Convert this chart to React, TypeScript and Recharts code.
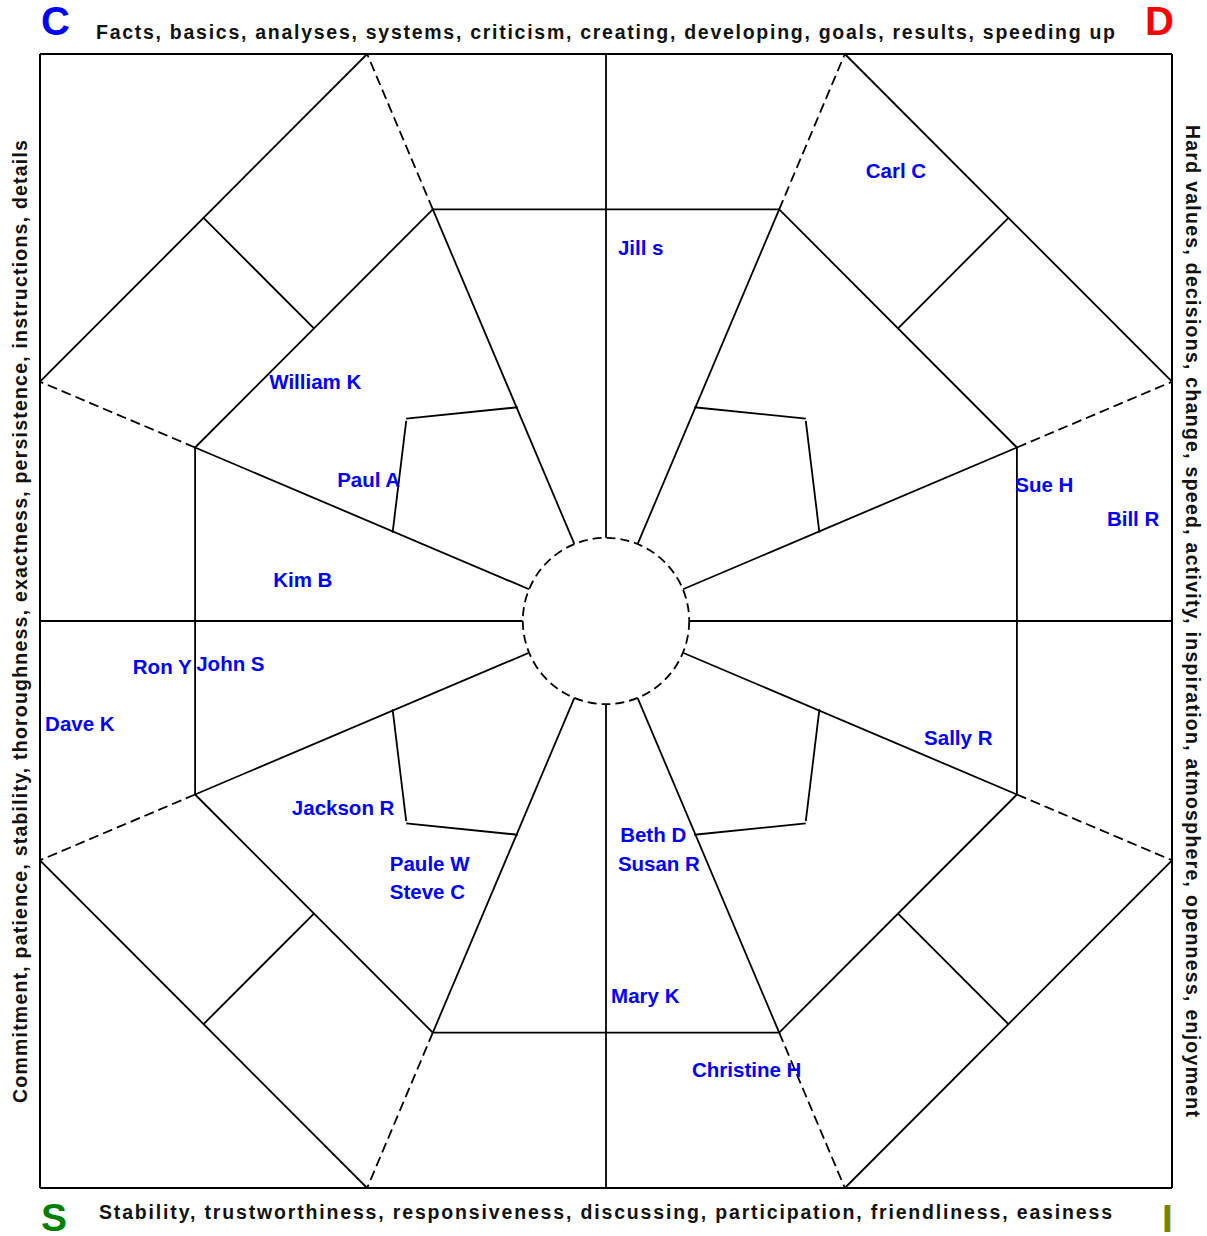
import { ScatterChart, Scatter, XAxis, YAxis, ReferenceLine, ReferenceDot } from 'recharts';

// chart box (data units run -100..100 on both axes, centre is 0,0)
const W = 1207;
const H = 1236;
const margin = { top: 54, right: 35, bottom: 48, left: 40 };
const plotW = W - margin.left - margin.right;

const FONT = '"Liberation Sans", Arial, Helvetica, sans-serif';

// person labels: left edge / baseline in data units
const names = [
  'Carl C', 'Jill s', 'William K', 'Paul A', 'Sue H', 'Bill R', 'Kim B', 'Ron Y', 'John S',
  'Dave K', 'Sally R', 'Jackson R', 'Beth D', 'Susan R', 'Paule W', 'Steve C', 'Mary K', 'Christine H',
];
const nameX = [45.9, 2.1, -59.5, -47.5, 72.3, 88.5, -58.8, -83.6, -72.4, -99.1, 56.2, -55.5, 2.5, 2.1, -38.2, -38.2, 0.9, 15.2];
const nameY = [78.1, 64.5, 40.9, 23.6, 22.8, 16.8, 6.0, -9.3, -8.8, -19.4, -21.8, -34.2, -39.0, -44.1, -44.1, -49.0, -67.4, -80.4];

// grid geometry (one quadrant, mirrored into the other three)
const CIRCLE_R = 14.7;
const OCT = [30.6, 72.6]; // octagon vertex (short, long)
const SPOKE_IN = [5.6, 13.6]; // diagonal spoke at the circle
const INNER = [15.6, 37.7]; // inner shape meets spoke
const INNER_CORNER = [35.3, 35.7];
const EDGE = [42.2, 100]; // dashed spoke hits the frame
const OUTER_MID = 71.1;
const OCT_MID = 51.6;

const labelData = names.map((n, i) => ({ name: n, x: nameX[i], y: nameY[i] }));

type Seg = [number, number, number, number];

// solid and dashed segments for the upper-right quadrant
const quadSolid: Seg[] = [
  [SPOKE_IN[0], SPOKE_IN[1], OCT[0], OCT[1]],
  [SPOKE_IN[1], SPOKE_IN[0], OCT[1], OCT[0]],
  [OCT[0], OCT[1], 0, OCT[1]],
  [OCT[1], OCT[0], OCT[1], 0],
  [OCT[0], OCT[1], OCT[1], OCT[0]],
  [INNER[0], INNER[1], INNER_CORNER[0], INNER_CORNER[1]],
  [INNER[1], INNER[0], INNER_CORNER[0], INNER_CORNER[0]],
  [EDGE[0], EDGE[1], EDGE[1], EDGE[0]],
  [OUTER_MID, OUTER_MID, OCT_MID, OCT_MID],
];
const quadDashed: Seg[] = [
  [OCT[0], OCT[1], EDGE[0], EDGE[1]],
  [OCT[1], OCT[0], EDGE[1], EDGE[0]],
];

const straightSpokes: Seg[] = [
  [0, CIRCLE_R, 0, 100],
  [0, -CIRCLE_R, 0, -100],
  [CIRCLE_R, 0, 100, 0],
  [-CIRCLE_R, 0, -100, 0],
];

const frame: Seg[] = [
  [-100, 100, 100, 100],
  [-100, -100, 100, -100],
  [-100, 100, -100, -100],
  [100, 100, 100, -100],
];

const signs = [[1, 1], [-1, 1], [1, -1], [-1, -1]];
const mirror = (segs: Seg[]): Seg[] =>
  signs.flatMap(([sx, sy]) => segs.map(([a, b, c, d]) => [a * sx, b * sy, c * sx, d * sy] as Seg));

const solidSegs = [...mirror(quadSolid), ...straightSpokes];
const dashedSegs = mirror(quadDashed);

const NameLabel = (props: any) => (
  <text
    x={props.cx}
    y={props.cy}
    fill="#0000ff"
    fontFamily={FONT}
    fontWeight="bold"
    fontSize={20.5}
    textAnchor="start"
  >
    {props.payload.name}
  </text>
);

const seg = (s: Seg) => [{ x: s[0], y: s[1] }, { x: s[2], y: s[3] }];

export default function App() {
  return (
    <div style={{ position: 'absolute', left: 0, top: 0, width: W, height: H, background: '#fff' }}>
      <ScatterChart width={W} height={H} margin={margin}>
        <XAxis type="number" dataKey="x" domain={[-100, 100]} hide allowDataOverflow />
        <YAxis type="number" dataKey="y" domain={[-100, 100]} hide allowDataOverflow />
        {solidSegs.map((s, i) => (
          <ReferenceLine key={'s' + i} segment={seg(s)} stroke="#000" strokeWidth={1.8} ifOverflow="visible" />
        ))}
        {dashedSegs.map((s, i) => (
          <ReferenceLine key={'d' + i} segment={seg(s)} stroke="#000" strokeWidth={1.8} strokeDasharray="10 5" ifOverflow="visible" />
        ))}
        {frame.map((s, i) => (
          <ReferenceLine key={'f' + i} segment={seg(s)} stroke="#000" strokeWidth={2} ifOverflow="visible" />
        ))}
        <ReferenceDot
          x={0}
          y={0}
          r={(CIRCLE_R * plotW) / 200}
          fill="none"
          stroke="#000"
          strokeWidth={1.8}
          strokeDasharray="9 5"
          ifOverflow="visible"
        />
        <Scatter data={labelData} shape={NameLabel} isAnimationActive={false} />
      </ScatterChart>
      <svg
        width={W}
        height={H}
        style={{ position: 'absolute', left: 0, top: 0, pointerEvents: 'none' }}
        fontFamily={FONT}
        fontWeight="bold"
      >
        <text x={41} y={35} fontSize={40} fill="#0000ff">C</text>
        <text x={1145} y={35} fontSize={40} fill="#ff0000">D</text>
        <text x={41} y={1231} fontSize={39} fill="#008000">S</text>
        <text x={1162} y={1232} fontSize={39} fill="#808000">I</text>
        <text x={96} y={39} fontSize={19.5} fill="#111" textLength={1019} lengthAdjust="spacing">
          Facts, basics, analyses, systems, criticism, creating, developing, goals, results, speeding up
        </text>
        <text x={99} y={1219} fontSize={19.5} fill="#111" textLength={1013} lengthAdjust="spacing">
          Stability, trustworthiness, responsiveness, discussing, participation, friendliness, easiness
        </text>
        <text
          transform="translate(27,1103) rotate(-90)"
          fontSize={19.5}
          fill="#111"
          textLength={963}
          lengthAdjust="spacing"
        >
          Commitment, patience, stability, thoroughness, exactness, persistence, instructions, details
        </text>
        <text
          transform="translate(1186,125) rotate(90)"
          fontSize={19.5}
          fill="#111"
          textLength={992}
          lengthAdjust="spacing"
        >
          Hard values, decisions, change, speed, activity, inspiration, atmosphere, openness, enjoyment
        </text>
      </svg>
    </div>
  );
}
